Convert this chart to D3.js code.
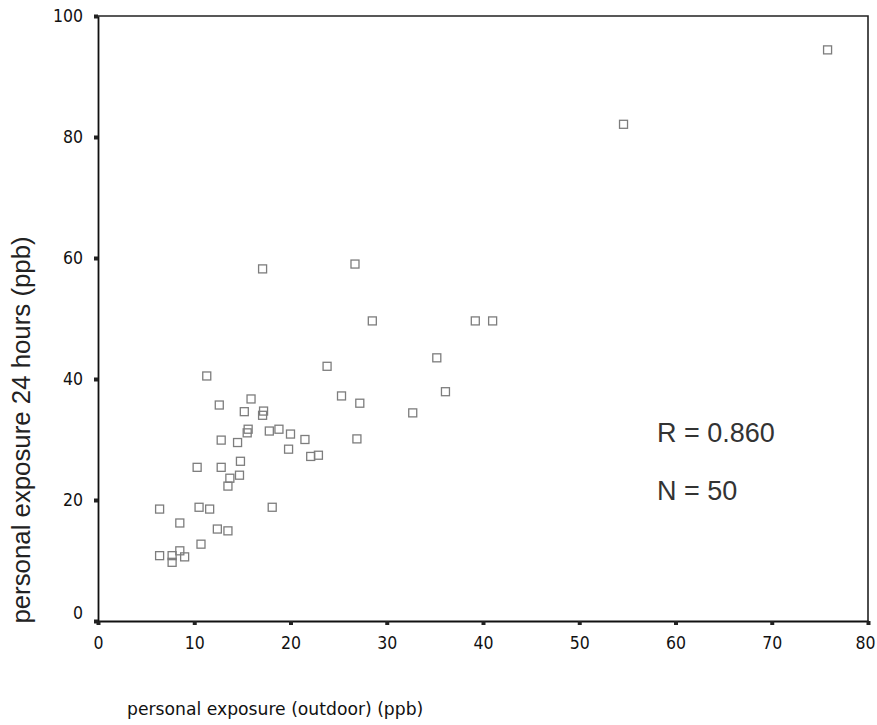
<!DOCTYPE html>
<html>
<head>
<meta charset="utf-8">
<script src="https://cdn.jsdelivr.net/npm/d3@7"></script>
<style>
  html, body { margin: 0; padding: 0; background: #fff; }
  svg { display: block; }
</style>
</head>
<body>
<svg id="chart" width="877" height="725"></svg>
<script>
// Outdoor personal exposure (ppb) for each of the 50 subjects
const outdoor = [
  75.8, 54.6, 17.1, 26.7, 28.5, 39.2, 41.0, 35.2, 23.8, 11.3,
  36.1, 25.3, 27.2, 32.7, 15.9, 12.6, 15.2, 17.2, 17.1, 15.6,
  15.5, 17.8, 18.8, 20.0, 12.8, 14.5, 19.8, 26.9, 21.5, 22.1,
  22.9, 14.8, 10.3, 12.8, 14.7, 13.7, 13.5, 6.4, 10.5, 11.6,
  18.1, 8.5, 12.4, 13.5, 10.7, 6.4, 8.5, 7.7, 7.7, 9.0
];
// 24-hour personal exposure (ppb), same subject order
const personal24h = [
  94.4, 82.1, 58.2, 59.0, 49.6, 49.6, 49.6, 43.5, 42.1, 40.5,
  37.9, 37.2, 36.0, 34.4, 36.7, 35.7, 34.6, 34.7, 34.0, 31.7,
  31.1, 31.4, 31.7, 30.9, 29.9, 29.5, 28.4, 30.1, 30.0, 27.2,
  27.4, 26.4, 25.4, 25.4, 24.1, 23.6, 22.3, 18.5, 18.8, 18.5,
  18.8, 16.2, 15.2, 14.9, 12.7, 10.8, 11.6, 10.8, 9.7, 10.6
];
const xTicks = [0, 10, 20, 30, 40, 50, 60, 70, 80];
const yTicks = [0, 20, 40, 60, 80, 100];
const statLines = ["R = 0.860", "N = 50"];
const xTitle = "personal exposure (outdoor) (ppb)";
const yTitle = "personal exposure 24 hours (ppb)";

const svg = d3.select("#chart");
const plotLeft = 98, plotRight = 868, plotTop = 16, plotBottom = 621;

const x = d3.scaleLinear().domain([0, 80]).range([plotLeft, plotRight]);
const y = d3.scaleLinear().domain([0, 100]).range([plotBottom, plotTop]);

const tickFont = "'DejaVu Sans Condensed', 'DejaVu Sans', sans-serif";

// frame: top and right edges
svg.append("path")
  .attr("d", `M${plotLeft},${plotTop}H${plotRight}V${plotBottom}`)
  .attr("fill", "none")
  .attr("stroke", "#222")
  .attr("stroke-width", 1.6);

// x axis
const gx = svg.append("g")
  .attr("transform", `translate(0,${plotBottom})`)
  .call(d3.axisBottom(x).tickValues(xTicks).tickSize(4).tickPadding(12).tickSizeOuter(0));
// y axis
const gy = svg.append("g")
  .attr("transform", `translate(${plotLeft},0)`)
  .call(d3.axisLeft(y).tickValues(yTicks).tickSize(4).tickPadding(11).tickSizeOuter(0));

[gx, gy].forEach(g => {
  g.select(".domain").attr("stroke", "#111").attr("stroke-width", 1.8);
  g.selectAll(".tick line").attr("stroke", "#222").attr("stroke-width", 4);
  g.selectAll(".tick text")
    .attr("fill", "#111")
    .style("font-family", tickFont)
    .style("font-size", "17.5px");
});
// lift the zero label on the y axis clear of the x axis line
gy.selectAll(".tick").filter(d => d === 0).select("text").attr("dy", "-0.12em");
// keep the last x label inside the page
gx.selectAll(".tick").filter(d => d === 80).select("text").attr("dx", "-3");

// markers
const s = 8;
svg.append("g")
  .selectAll("rect")
  .data(outdoor.map((v, i) => [v, personal24h[i]]))
  .join("rect")
  .attr("x", d => x(d[0]) - s / 2)
  .attr("y", d => y(d[1]) - s / 2)
  .attr("width", s)
  .attr("height", s)
  .attr("fill", "none")
  .attr("stroke", "#7d7d7d")
  .attr("stroke-width", 1.3);

// statistics
svg.append("g")
  .selectAll("text")
  .data(statLines)
  .join("text")
  .attr("x", 657)
  .attr("y", (d, i) => 442 + i * 58)
  .attr("fill", "#333")
  .style("font-family", "'Liberation Sans', Arial, sans-serif")
  .style("font-size", "27px")
  .text(d => d);

// axis titles
svg.append("text")
  .attr("x", 127)
  .attr("y", 715)
  .attr("fill", "#111")
  .style("font-family", "'DejaVu Sans', Verdana, sans-serif")
  .style("font-size", "17.2px")
  .text(xTitle);

svg.append("text")
  .attr("transform", `translate(30,430) rotate(-90)`)
  .attr("text-anchor", "middle")
  .attr("fill", "#222")
  .style("font-family", "'Liberation Sans', Arial, sans-serif")
  .style("font-size", "25.8px")
  .text(yTitle);
</script>
</body>
</html>
